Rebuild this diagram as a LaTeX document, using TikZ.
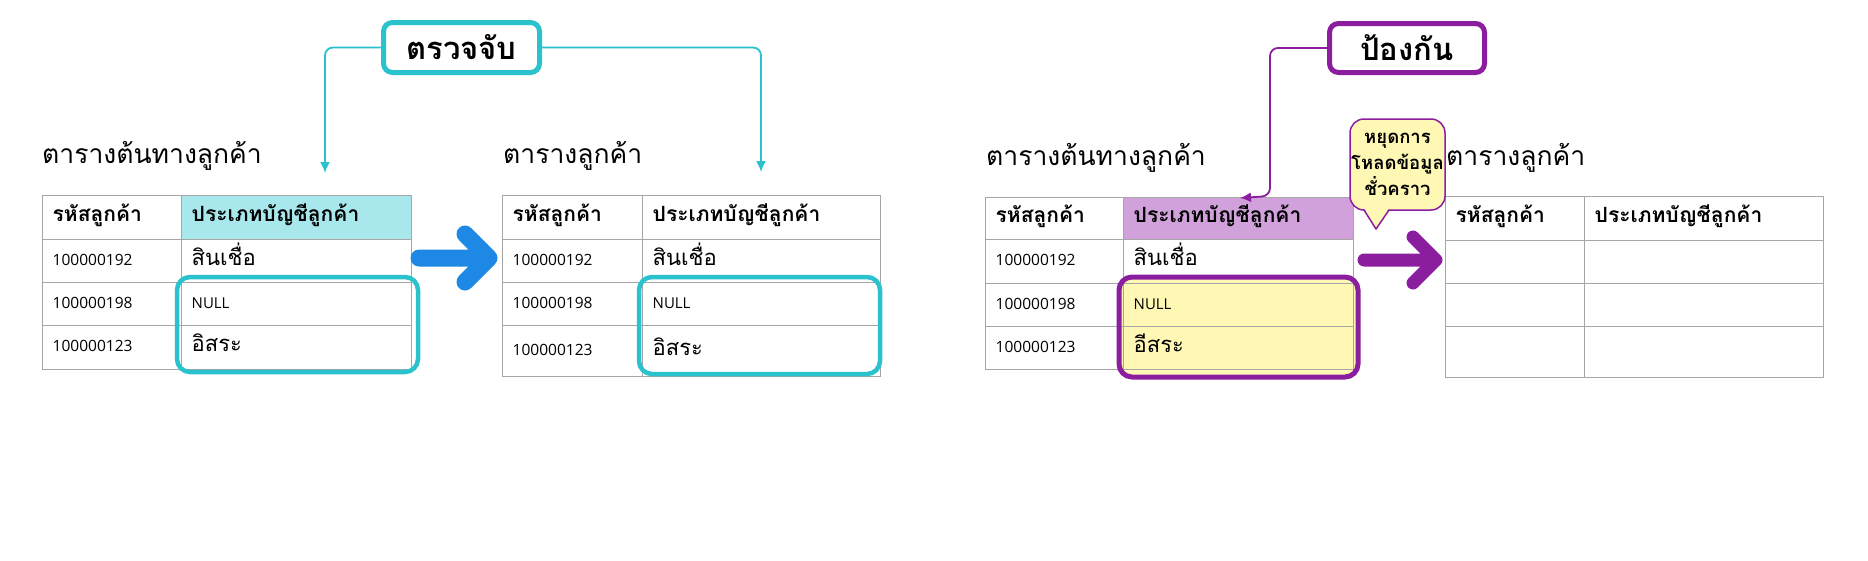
\documentclass[tikz,border=0pt]{standalone}
\usepackage{fontspec}
\setmainfont{Open Sans}
\newfontfamily\thaif[Script=Thai]{Loma}
\usetikzlibrary{arrows.meta}
\definecolor{cyanb}{HTML}{2AC3CD}
\definecolor{cyanh}{HTML}{A8E7EB}
\definecolor{purp}{HTML}{8B1E9F}
\definecolor{purph}{HTML}{D0A1DB}
\definecolor{yel}{HTML}{FFF8B4}
\definecolor{gridg}{HTML}{A6A6A6}
\definecolor{blu}{HTML}{1E88E5}
\tikzset{
  cell/.style={draw=gridg, line width=1.4pt, anchor=north west, inner xsep=10pt, inner ysep=0pt, align=left, text height=13pt, text depth=5pt},
  hd/.style={font=\thaif\bfseries\fontsize{21}{24}\selectfont},
  num/.style={font=\fontsize{15.5}{19}\selectfont},
  th/.style={font=\thaif\fontsize{22}{26}\selectfont},
  nul/.style={font=\fontsize{15}{18}\selectfont},
  ttl/.style={font=\thaif\fontsize{26.5}{30}\selectfont, anchor=base west, inner sep=0pt},
  lbl/.style={rounded corners=9pt, line width=5pt, fill=white, font=\thaif\bfseries\fontsize{31}{34}\selectfont, inner sep=0pt},
  conn/.style={line width=1.8pt, rounded corners=8pt, -{Latex[length=11pt,width=10pt]}},
  hl/.style={line width=4.5pt, rounded corners=13pt},
  bigarrow/.style={line width=#1, line cap=round, line join=round},
}
\begin{document}
\begin{tikzpicture}[x=1pt,y=-1pt]
\useasboundingbox (0,0) rectangle (1868,560);
\fill[white] (0,0) rectangle (1868,560);

% ---------- titles
\node[ttl] (t1) at (42,163) {ตารางต้นทางลูกค้า};
\node[ttl] (t2) at (503,163) {ตารางลูกค้า};
\node[ttl] (t3) at (986,165) {ตารางต้นทางลูกค้า};
\node[ttl] (t4) at (1446,165) {ตารางลูกค้า};

% ---------- table 1
\node[cell,hd,text width=119pt,minimum height=44pt] (a11) at (42,195) {รหัสลูกค้า};
\node[cell,hd,text width=210pt,minimum height=44pt,fill=cyanh] (a12) at (181,195) {ประเภทบัญชีลูกค้า};
\node[cell,num,text width=119pt,minimum height=43pt] (a21) at (42,239) {100000192};
\node[cell,th,text width=210pt,minimum height=43pt] (a22) at (181,239) {สินเชื่อ};
\node[cell,num,text width=119pt,minimum height=43pt] (a31) at (42,282) {100000198};
\node[cell,nul,text width=210pt,minimum height=43pt] (a32) at (181,282) {NULL};
\node[cell,num,text width=119pt,minimum height=44pt] (a41) at (42,325) {100000123};
\node[cell,th,text width=210pt,minimum height=44pt] (a42) at (181,325) {อิสระ};

% ---------- table 2
\node[cell,hd,text width=120pt,minimum height=44pt] (b11) at (502,195) {รหัสลูกค้า};
\node[cell,hd,text width=218pt,minimum height=44pt] (b12) at (642,195) {ประเภทบัญชีลูกค้า};
\node[cell,num,text width=120pt,minimum height=43pt] (b21) at (502,239) {100000192};
\node[cell,th,text width=218pt,minimum height=43pt] (b22) at (642,239) {สินเชื่อ};
\node[cell,num,text width=120pt,minimum height=43pt] (b31) at (502,282) {100000198};
\node[cell,nul,text width=218pt,minimum height=43pt] (b32) at (642,282) {NULL};
\node[cell,num,text width=120pt,minimum height=51pt] (b41) at (502,325) {100000123};
\node[cell,th,text width=218pt,minimum height=51pt] (b42) at (642,325) {อิสระ};

% ---------- table 3
\fill[yel, rounded corners=13pt] (1119,277) rectangle (1358,377);
\node[cell,hd,text width=118pt,minimum height=42pt] (c11) at (985,197) {รหัสลูกค้า};
\node[cell,hd,text width=210pt,minimum height=42pt,fill=purph] (c12) at (1123,197) {ประเภทบัญชีลูกค้า};
\node[cell,num,text width=118pt,minimum height=44pt] (c21) at (985,239) {100000192};
\node[cell,th,text width=210pt,minimum height=44pt] (c22) at (1123,239) {สินเชื่อ};
\node[cell,num,text width=118pt,minimum height=43pt] (c31) at (985,283) {100000198};
\node[cell,nul,text width=210pt,minimum height=43pt] (c32) at (1123,283) {NULL};
\node[cell,num,text width=118pt,minimum height=43pt] (c41) at (985,326) {100000123};
\node[cell,th,text width=210pt,minimum height=43pt] (c42) at (1123,326) {อีสระ};

% ---------- table 4
\node[cell,hd,text width=119pt,minimum height=44pt] (d11) at (1445,196) {รหัสลูกค้า};
\node[cell,hd,text width=219pt,minimum height=44pt] (d12) at (1584,196) {ประเภทบัญชีลูกค้า};
\node[cell,text width=119pt,minimum height=43pt] (d21) at (1445,240) {};
\node[cell,text width=219pt,minimum height=43pt] (d22) at (1584,240) {};
\node[cell,text width=119pt,minimum height=43pt] (d31) at (1445,283) {};
\node[cell,text width=219pt,minimum height=43pt] (d32) at (1584,283) {};
\node[cell,text width=119pt,minimum height=51pt] (d41) at (1445,326) {};
\node[cell,text width=219pt,minimum height=51pt] (d42) at (1584,326) {};

% ---------- highlight frames
\draw[hl, draw=cyanb] (177,277) rectangle (418,372);
\draw[hl, draw=cyanb] (639,277) rectangle (880,374);
\draw[hl, draw=purp, line width=5pt] (1119,277) rectangle (1358,377);

% ---------- big arrows
\draw[bigarrow=17pt, draw=blu] (419,258) -- (487,258) (465,234) -- (489,258) -- (465,282);
\draw[bigarrow=13pt, draw=purp] (1364,260) -- (1434,260) (1413,237) -- (1436,260) -- (1413,283);

% ---------- label boxes
\node[lbl, draw=cyanb, minimum width=156pt, minimum height=50pt] (det) at (461.5,47.5) {ตรวจจับ};
\node[lbl, draw=purp, minimum width=155pt, minimum height=49pt] (prv) at (1407,48) {ป้องกัน};

% ---------- connectors
\coordinate (ce1) at (325,173);
\coordinate (ce2) at (761,172);
\coordinate (pbend) at (1270,196);
\coordinate (pend) at (1240,198);
\draw[conn, draw=cyanb] (det.west) -| (ce1);
\draw[conn, draw=cyanb] (det.east) -| (ce2);
\draw[conn, draw=purp] (prv.west) -| (pbend) -- (pend);

% ---------- callout
\node[draw=purp, line width=1.5pt, fill=yel, rounded corners=14pt, minimum width=95pt, minimum height=91pt, inner sep=0pt, align=center, font=\thaif\bfseries\fontsize{18.5}{26}\selectfont] (stop) at (1397.5,164.5) {หยุดการ\\โหลดข้อมูล\\ชั่วคราว};
\fill[yel] (1364,208) -- (1376,229) -- (1389,208) -- cycle;
\draw[purp, line width=1.5pt, line join=round] (1364,210) -- (1376,229) -- (1389,210);
\end{tikzpicture}
\end{document}
